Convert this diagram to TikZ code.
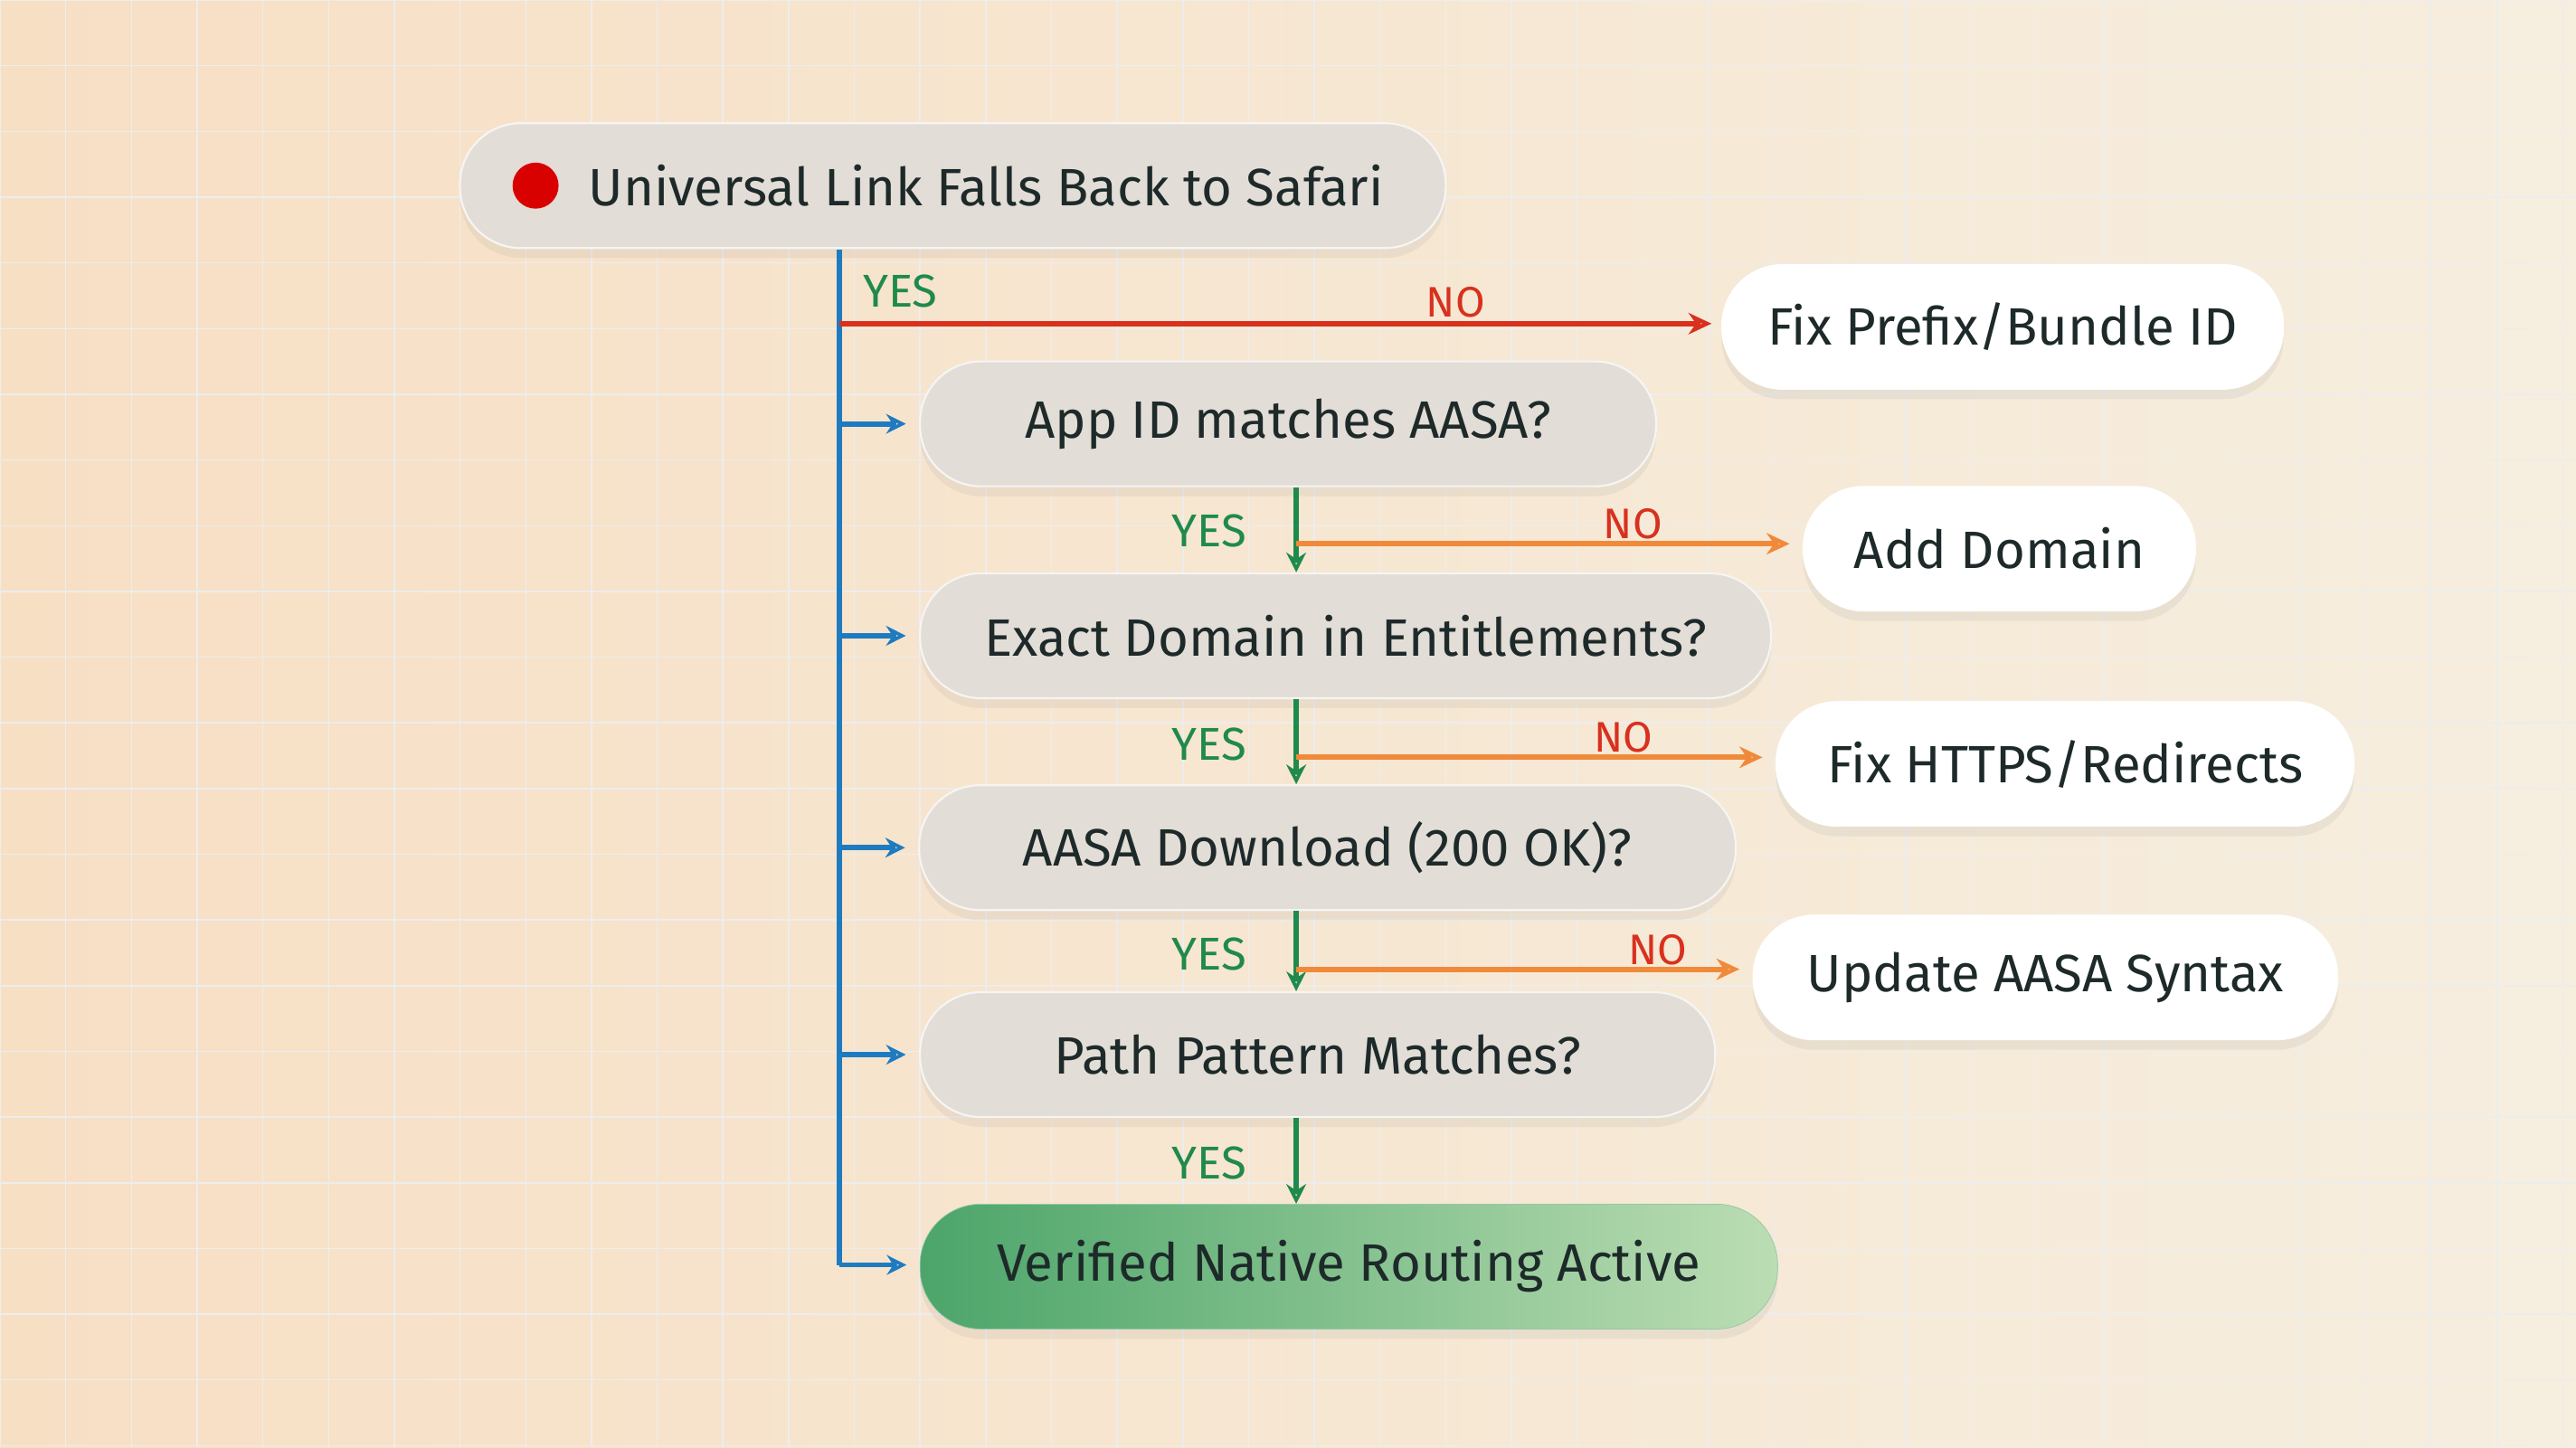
\documentclass[tikz,border=0pt]{standalone}
\usepackage{fontspec}
\setmainfont{Fira Sans}
\usetikzlibrary{arrows.meta,shadows}
\definecolor{bgA}{HTML}{F7DFC4}
\definecolor{bgB}{HTML}{F6EEDF}
\definecolor{pillG}{HTML}{E2DDD6}
\definecolor{vblue}{HTML}{1F7BC0}
\definecolor{tgreen}{HTML}{1F8A4C}
\definecolor{nored}{HTML}{D8311E}
\definecolor{lorange}{HTML}{F08A3A}
\definecolor{txt}{HTML}{1E2A2A}
\definecolor{gL}{HTML}{4CA56A}
\definecolor{gR}{HTML}{BCDDB4}
\begin{document}
\begin{tikzpicture}[x=1pt,y=-1pt,
 pill/.style={rounded corners=37pt,minimum height=76pt,font=\fontsize{32}{35}\selectfont,text=txt,drop shadow={opacity=0.10,shadow xshift=0pt,shadow yshift=-6pt}},
 grey/.style={pill,fill=pillG,draw=white!70!pillG,line width=1.2pt},
 white/.style={pill,fill=white,draw=white},
 blarrow/.style={vblue,line width=3.2pt,-{Stealth[length=12pt,width=12pt,open]}},
 garrow/.style={tgreen,line width=3.2pt,-{Stealth[length=12pt,width=12pt,open]}},
 oarrow/.style={line width=3.2pt,-{Stealth[length=14pt,width=13pt,open]}},
 yes/.style={text=tgreen,font=\fontsize{28}{30}\selectfont},
 no/.style={text=nored,font=\fontsize{26}{28}\selectfont}]
\useasboundingbox (0,0) rectangle (1568,881);
\shade[left color=bgA,right color=bgB] (0,0) rectangle (1568,881);
\foreach \x in {0,40,...,1568} \draw[black!7,line width=0.8pt] (\x,0) -- (\x,881);
\foreach \y in {0,40,...,881} \draw[black!7,line width=0.8pt] (0,\y) -- (1568,\y);

\node[grey,minimum width=600pt] (top) at (580,113) {};
\node[anchor=west,font=\fontsize{32}{35}\selectfont,text=txt,inner sep=0pt] (toptext) at (358,113) {Universal Link Falls Back to Safari};
\fill[red!85!black] (326,113) circle (14pt);
\node[white,minimum width=342pt] (fix1) at (1219,199) {Fix Prefix/Bundle ID};
\node[grey,minimum width=448pt] (q1) at (784,258) {App ID matches AASA?};
\node[white,minimum width=239pt] (fix2) at (1217,334) {Add Domain};
\node[grey,minimum width=518pt] (q2) at (819,387) {Exact Domain in Entitlements?};
\node[white,minimum width=352pt] (fix3) at (1257,465) {Fix HTTPS/Redirects};
\node[grey,minimum width=497pt] (q3) at (808,516) {AASA Download (200 OK)?};
\node[white,minimum width=356pt] (fix4) at (1245,595) {Update AASA Syntax};
\node[grey,minimum width=484pt] (q4) at (802,642) {Path Pattern Matches?};
\node[pill,minimum width=522pt,left color=gL,right color=gR,draw=gL!60!white] (ok) at (821,771) {Verified Native Routing Active};

\coordinate (s0) at (511,152);
\coordinate (b5) at (511,770);
\draw[vblue,line width=3.2pt] (s0) -- (b5);
\foreach \n/\y in {q1/258,q2/387,q3/516,q4/642,ok/770}
  \draw[blarrow] (511,\y) -- ([xshift=-8pt]\n.west|-0,\y);
\node[yes] (y0) at (548,177) {YES};
\draw[oarrow,nored] (511,197) -- ([xshift=-6pt]fix1.west|-0,197);
\node[no] (n0) at (886,184) {NO};
\foreach \a/\b/\y/\f/\nx in {q1/q2/331/fix2/994,q2/q3/461/fix3/988,q3/q4/590/fix4/1009}{
  \draw[garrow] (789,0|-\a.south) -- (789,0|-\b.north);
  \draw[oarrow,lorange] (789,\y) -- ([xshift=-8pt]\f.west|-0,\y);
  \node[no] at (\nx,\y-12) {NO};
}
\draw[garrow] (789,0|-q4.south) -- (789,0|-ok.north);
\foreach \y in {323,453,581,708} \node[yes] at (736,\y) {YES};
\end{tikzpicture}
\end{document}
